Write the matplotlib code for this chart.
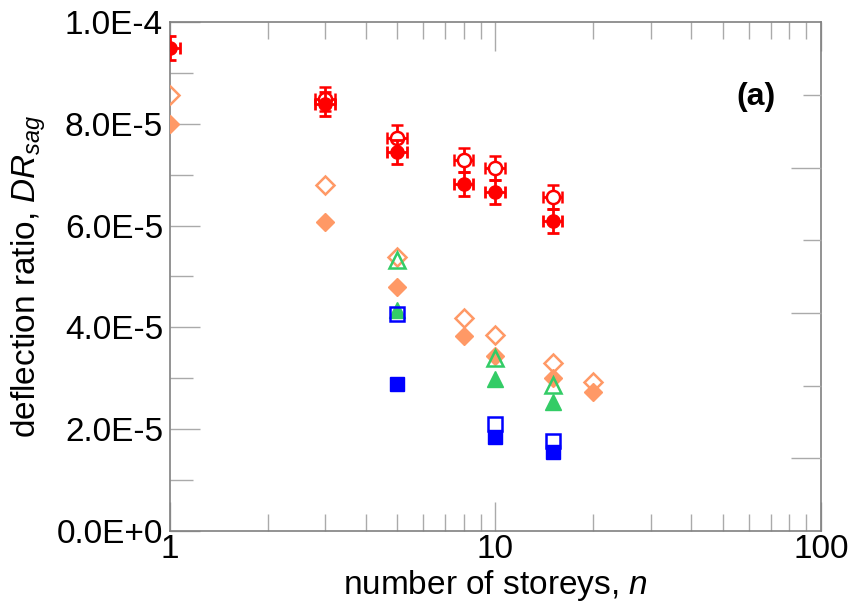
import numpy as np
import matplotlib
matplotlib.use('Agg')
import matplotlib.pyplot as plt
from matplotlib.ticker import FixedLocator, NullFormatter

plt.rcParams['font.family'] = ['Liberation Sans', 'DejaVu Sans']
plt.rcParams['mathtext.fontset'] = 'custom'
plt.rcParams['mathtext.rm'] = 'Liberation Sans'
plt.rcParams['mathtext.it'] = 'Liberation Sans:italic'

# ---- data ----
# red circles with error bars
n_red = [1, 3, 5, 8, 10, 15]
dr_red_filled = [9.49e-5, 8.39e-5, 7.45e-5, 6.82e-5, 6.66e-5, 6.09e-5]
n_red_open = [3, 5, 8, 10, 15]
dr_red_open = [8.49e-5, 7.73e-5, 7.29e-5, 7.13e-5, 6.56e-5]
xerr_red = [0.07, 0.21, 0.35, 0.56, 0.7, 1.05]
xerr_red_open = [0.21, 0.35, 0.56, 0.7, 1.05]
yerr_red = 0.24e-5

# orange diamonds
n_orange = [1, 3, 5, 8, 10, 15, 20]
dr_orange_filled = [8.0e-5, 6.07e-5, 4.79e-5, 3.83e-5, 3.44e-5, 3.01e-5, 2.73e-5]
dr_orange_open = [8.57e-5, 6.8e-5, 5.38e-5, 4.18e-5, 3.85e-5, 3.3e-5, 2.93e-5]

# green triangles
n_green = [5, 10, 15]
dr_green_filled = [4.34e-5, 2.99e-5, 2.53e-5]
dr_green_open = [5.32e-5, 3.4e-5, 2.87e-5]

# blue squares
n_blue = [5, 10, 15]
dr_blue_filled = [2.89e-5, 1.85e-5, 1.55e-5]
dr_blue_open = [4.26e-5, 2.1e-5, 1.77e-5]

ytick_vals = [0, 2e-5, 4e-5, 6e-5, 8e-5, 1e-4]
ytick_labels = ['0.0E+0', '2.0E-5', '4.0E-5', '6.0E-5', '8.0E-5', '1.0E-4']

RED = '#ff0000'
ORANGE = '#ff9966'
GREEN = '#33cc66'
BLUE = '#0000ff'
AXC = '#808080'

fig = plt.figure(figsize=(8.55, 6.09), dpi=100)
ax = fig.add_axes([0.1988, 0.1281, 0.7614, 0.8358])

# orange diamonds
ax.plot(n_orange, dr_orange_open, 'D', ms=9.5, mfc='none', mec=ORANGE, mew=1.8, ls='none', zorder=3)
ax.plot(n_orange, dr_orange_filled, 'D', ms=9.5, mfc=ORANGE, mec=ORANGE, ls='none', zorder=3)
# green triangles
ax.plot(n_green, dr_green_open, '^', ms=12, mfc='none', mec=GREEN, mew=1.8, ls='none', zorder=4)
ax.plot(n_green, dr_green_filled, '^', ms=12, mfc=GREEN, mec=GREEN, ls='none', zorder=4)
# blue squares
ax.plot(n_blue, dr_blue_open, 's', ms=10.5, mfc='none', mec=BLUE, mew=1.8, ls='none', zorder=5)
ax.plot(n_blue, dr_blue_filled, 's', ms=10.5, mfc=BLUE, mec=BLUE, ls='none', zorder=5)

# red circles with error bars
ax.errorbar(n_red_open, dr_red_open, xerr=xerr_red_open, yerr=yerr_red, fmt='o', ms=9.5,
            mfc='white', mec=RED, mew=1.8, ecolor=RED, elinewidth=2, capsize=4,
            capthick=2, zorder=6)
ax.errorbar(n_red, dr_red_filled, xerr=xerr_red, yerr=yerr_red, fmt='o', ms=9.5,
            mfc=RED, mec=RED, ecolor=RED, elinewidth=2, capsize=4,
            capthick=2, zorder=7)

ax.set_xscale('log')
ax.set_xlim(1, 100)
ax.set_ylim(0, 1e-4)
ax.set_xticks([1, 10, 100])
ax.set_xticklabels(['1', '10', '100'])
ax.xaxis.set_minor_formatter(NullFormatter())
ax.set_yticks(ytick_vals)
ax.set_yticklabels(ytick_labels)
ax.yaxis.set_minor_locator(FixedLocator([1e-5, 3e-5, 5e-5, 7e-5, 9e-5]))

for s in ax.spines.values():
    s.set_color(AXC)
    s.set_linewidth(1.2)

ax.tick_params(axis='x', which='major', direction='in', length=21, width=1, color='#aaaaaa',
               top=True, labelsize=24, pad=2)
ax.tick_params(axis='x', which='minor', direction='in', length=12, width=1, color='#aaaaaa', top=True)
ax.tick_params(axis='y', which='major', direction='in', length=21.5, width=1, color='#aaaaaa',
               right=False, labelsize=24, pad=5)
ax.tick_params(axis='y', which='minor', direction='in', length=16.5, width=1, color='#aaaaaa', right=False)

# right axis ticks (offset from left ticks in the original)
ax2 = ax.twinx()
ax2.set_ylim(0, 1e-4)
ax2.yaxis.set_major_locator(FixedLocator([1.43e-5, 4.28e-5, 7.13e-5]))
ax2.yaxis.set_minor_locator(FixedLocator([2.85e-5, 5.72e-5, 8.57e-5]))
ax2.tick_params(axis='y', which='major', direction='in', length=21.5, width=1, color='#aaaaaa', labelright=False)
ax2.tick_params(axis='y', which='minor', direction='in', length=13, width=1, color='#aaaaaa', labelright=False)
for s in ax2.spines.values():
    s.set_visible(False)

ax.set_xlabel('number of storeys, $n$', fontsize=24, labelpad=2)
ax.set_ylabel('deflection ratio, $DR_{sag}$', fontsize=24, labelpad=6)

ax.text(0.90, 0.853, '(a)', transform=ax.transAxes, fontsize=23, fontweight='bold',
        ha='center', va='center')

fig.savefig('out.png', dpi=100)
